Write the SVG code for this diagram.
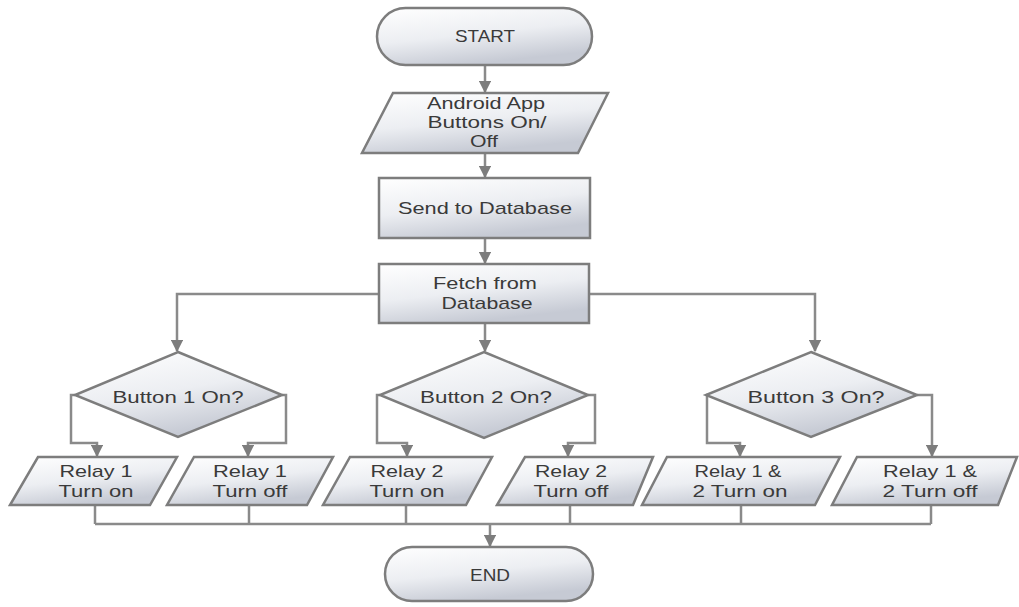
<svg xmlns="http://www.w3.org/2000/svg" width="1019" height="607" viewBox="0 0 1019 607">
<defs>
<linearGradient id="g" x1="0" y1="0" x2="0.4" y2="1">
<stop offset="0" stop-color="#ffffff"/>
<stop offset="0.55" stop-color="#eceef2"/>
<stop offset="1" stop-color="#c6cad4"/>
</linearGradient>
<marker id="ah" viewBox="0 0 10 10" refX="9" refY="5" markerWidth="5" markerHeight="5" orient="auto" markerUnits="strokeWidth">
<path d="M0,0 L10,5 L0,10 z" fill="#7d7d7d"/>
</marker>
<style>
.s{fill:url(#g);stroke:#7d7d7d;stroke-width:2.5}
.t{font-family:"Liberation Sans",Arial,sans-serif;font-size:17px;fill:#3a3a3a;text-anchor:middle}
.c{fill:none;stroke:#8a8a8a;stroke-width:2.5}
.a{marker-end:url(#ah)}
</style>
</defs>
<rect width="1019" height="607" fill="#fff"/>
<g id="connectors">
<path class="c a" d="M485,65 V92"/>
<path class="c a" d="M485,153 V177"/>
<path class="c a" d="M485,238 V263"/>
<path class="c a" d="M379,294 H177 V351"/>
<path class="c a" d="M485,323 V351"/>
<path class="c a" d="M589,294 H815 V351"/>
<path class="c a" d="M75,395 H71 V443 H97 V456"/>
<path class="c a" d="M282,395 H286 V443 H248 V456"/>
<path class="c a" d="M380,395 H377 V443 H407 V456"/>
<path class="c a" d="M588,395 H595 V443 H568 V456"/>
<path class="c a" d="M706,395 H707 V443 H740 V456"/>
<path class="c a" d="M917,395 H932 V456"/>
<path class="c" d="M95,505 V524 M249,505 V524 M406,505 V524 M570,505 V524 M741,505 V524 M931,505 V524 M95,524 H931"/>
<path class="c a" d="M490,524 V546"/>
</g>
<g id="start">
<rect class="s" x="377" y="8" width="215" height="57" rx="28.5"/>
<text class="t" x="485" y="42" textLength="60" lengthAdjust="spacingAndGlyphs">START</text>
</g>
<g id="android">
<path class="s" d="M393,93 H608 L578,153 H362 Z"/>
<text class="t" x="486" y="109" textLength="118" lengthAdjust="spacingAndGlyphs">Android App</text>
<text class="t" x="487" y="128" textLength="119" lengthAdjust="spacingAndGlyphs">Buttons On/</text>
<text class="t" x="484" y="147" textLength="28" lengthAdjust="spacingAndGlyphs">Off</text>
</g>
<g id="send">
<rect class="s" x="379" y="178" width="211" height="60"/>
<text class="t" x="485" y="214" textLength="174" lengthAdjust="spacingAndGlyphs">Send to Database</text>
</g>
<g id="fetch">
<rect class="s" x="379" y="264" width="210" height="59"/>
<text class="t" x="485" y="289" textLength="104" lengthAdjust="spacingAndGlyphs">Fetch from</text>
<text class="t" x="487" y="309" textLength="91" lengthAdjust="spacingAndGlyphs">Database</text>
</g>
<g id="d1">
<path class="s" d="M178,352 L282,395 L178,437 L75,395 Z"/>
<text class="t" x="178" y="403" textLength="131" lengthAdjust="spacingAndGlyphs">Button 1 On?</text>
</g>
<g id="d2">
<path class="s" d="M484,352 L588,395 L484,438 L380,395 Z"/>
<text class="t" x="486" y="403" textLength="132" lengthAdjust="spacingAndGlyphs">Button 2 On?</text>
</g>
<g id="d3">
<path class="s" d="M811,352 L917,395 L811,437 L706,395 Z"/>
<text class="t" x="816" y="403" textLength="137" lengthAdjust="spacingAndGlyphs">Button 3 On?</text>
</g>
<g id="r1">
<path class="s" d="M38,457 H177 L150,505 H10 Z"/>
<text class="t" x="96" y="477" textLength="73" lengthAdjust="spacingAndGlyphs">Relay 1</text>
<text class="t" x="96" y="497" textLength="75" lengthAdjust="spacingAndGlyphs">Turn on</text>
</g>
<g id="r2">
<path class="s" d="M194,457 H333 L307,505 H167 Z"/>
<text class="t" x="250" y="477" textLength="74" lengthAdjust="spacingAndGlyphs">Relay 1</text>
<text class="t" x="250" y="497" textLength="75" lengthAdjust="spacingAndGlyphs">Turn off</text>
</g>
<g id="r3">
<path class="s" d="M350,457 H492 L466,505 H323 Z"/>
<text class="t" x="407" y="477" textLength="73" lengthAdjust="spacingAndGlyphs">Relay 2</text>
<text class="t" x="407" y="497" textLength="75" lengthAdjust="spacingAndGlyphs">Turn on</text>
</g>
<g id="r4">
<path class="s" d="M525,457 H653 L633,505 H497 Z"/>
<text class="t" x="571" y="477" textLength="72" lengthAdjust="spacingAndGlyphs">Relay 2</text>
<text class="t" x="571" y="497" textLength="75" lengthAdjust="spacingAndGlyphs">Turn off</text>
</g>
<g id="r5">
<path class="s" d="M667,457 H840 L815,505 H642 Z"/>
<text class="t" x="738" y="477" textLength="87" lengthAdjust="spacingAndGlyphs">Relay 1 &amp;</text>
<text class="t" x="740" y="497" textLength="95" lengthAdjust="spacingAndGlyphs">2 Turn on</text>
</g>
<g id="r6">
<path class="s" d="M857,457 H1017 L998,505 H832 Z"/>
<text class="t" x="930" y="477" textLength="94" lengthAdjust="spacingAndGlyphs">Relay 1 &amp;</text>
<text class="t" x="930" y="497" textLength="95" lengthAdjust="spacingAndGlyphs">2 Turn off</text>
</g>
<g id="end">
<rect class="s" x="385" y="547" width="208" height="54" rx="27"/>
<text class="t" x="490" y="581" textLength="40" lengthAdjust="spacingAndGlyphs">END</text>
</g>
</svg>
